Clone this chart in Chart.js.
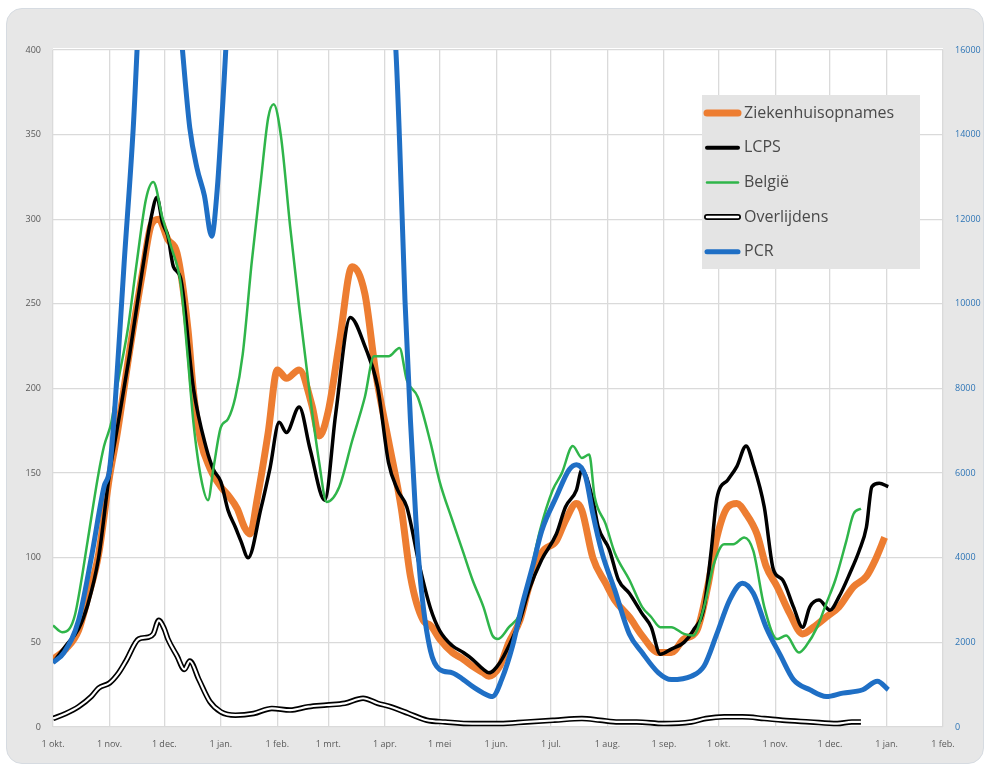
<!DOCTYPE html>
<html>
<head>
<meta charset="utf-8">
<script src="https://cdn.jsdelivr.net/npm/chart.js@4/dist/chart.umd.min.js"></script>
<style>
  body { margin: 0; background: #ffffff; }
  .panel { position: absolute; left: 6px; top: 8px; width: 976px; height: 754px;
           background: #e7e7e7; border: 1px solid #d6dbe1; border-radius: 16px; }
  canvas { position: absolute; left: 0; top: 0; }
</style>
</head>
<body>
<div class="panel"></div>
<canvas id="chart" width="987" height="770"></canvas>
<script>
// dagen sinds 1 okt. 2020 + labels van de x-as
const tickDays = [0, 31, 61, 92, 123, 151, 182, 212, 243, 273, 304, 335, 365, 396, 426, 457, 488];
const tickLabels = ['1 okt.', '1 nov.', '1 dec.', '1 jan.', '1 feb.', '1 mrt.', '1 apr.', '1 mei', '1 jun.',
                    '1 jul.', '1 aug.', '1 sep.', '1 okt.', '1 nov.', '1 dec.', '1 jan.', '1 feb.'];

// Ziekenhuisopnames (oranje)
const zhDays   = [0, 7, 14, 19, 25, 31, 35, 42, 49, 54, 58, 63, 68, 74, 77, 81, 86, 92, 96, 101, 105, 108, 112, 118, 123, 128, 135, 142, 146, 151, 157, 164, 171, 177, 184, 191, 196, 203, 207, 212, 219, 225, 230, 236, 239, 245, 250, 256, 261, 268, 276, 281, 287, 290, 296, 303, 308, 316, 323, 332, 339, 346, 353, 359, 364, 370, 375, 380, 386, 391, 397, 404, 411, 417, 424, 431, 439, 446, 451, 456];
const zhValues = [40, 46, 57, 76, 102, 148, 172, 222, 268, 297, 300, 288, 280, 235, 198, 169, 153, 142, 137, 129, 118, 114, 135, 174, 211, 206, 211, 190, 172, 187, 227, 272, 256, 209, 169, 129, 89, 63, 60, 52, 44, 40, 36, 32, 30, 36, 50, 63, 83, 103, 110, 122, 132, 128, 100, 85, 75, 65, 54, 44, 44, 52, 57, 83, 112, 130, 132, 126, 114, 95, 83, 67, 55, 59, 65, 71, 83, 89, 99, 112];

// LCPS (zwart)
const lcpsDays   = [0, 7, 14, 19, 25, 31, 35, 42, 49, 54, 57, 60, 63, 66, 70, 77, 84, 88, 92, 96, 100, 103, 107, 114, 119, 124, 128, 135, 141, 149, 155, 163, 171, 178, 184, 189, 194, 201, 207, 212, 219, 225, 230, 236, 239, 245, 250, 256, 261, 268, 276, 281, 287, 290, 296, 299, 305, 310, 316, 323, 328, 333, 339, 346, 351, 357, 361, 364, 370, 375, 380, 384, 390, 395, 400, 406, 411, 415, 420, 426, 431, 437, 442, 446, 449, 453, 458];
const lcpsValues = [38, 48, 58, 72, 100, 150, 175, 220, 270, 302, 313, 298, 290, 272, 265, 200, 165, 152, 145, 128, 118, 110, 100, 129, 153, 180, 174, 189, 164, 134, 185, 242, 225, 201, 156, 140, 130, 95, 70, 57, 48, 44, 40, 34, 32, 38, 48, 63, 81, 99, 114, 130, 140, 152, 134, 118, 105, 87, 79, 67, 59, 43, 46, 50, 57, 71, 105, 135, 146, 154, 166, 155, 130, 93, 87, 71, 59, 71, 75, 69, 77, 91, 104, 118, 142, 144, 142];

// België (groen)
const belgieDays   = [0, 5, 9, 12, 15, 19, 25, 28, 32, 35, 41, 46, 51, 55, 60, 65, 70, 74, 77, 81, 85, 88, 92, 96, 100, 104, 109, 114, 118, 121, 125, 130, 135, 141, 146, 150, 157, 164, 171, 176, 184, 190, 194, 200, 207, 212, 219, 225, 230, 236, 241, 244, 250, 256, 261, 267, 274, 279, 285, 290, 294, 297, 303, 308, 316, 323, 328, 333, 339, 346, 351, 357, 362, 368, 373, 379, 384, 390, 397, 402, 409, 413, 419, 424, 429, 435, 439, 443];
const belgieValues = [60, 56, 58, 66, 83, 110, 150, 166, 180, 200, 235, 275, 312, 322, 301, 283, 262, 217, 180, 148, 134, 153, 177, 182, 195, 220, 275, 323, 360, 368, 349, 296, 248, 195, 156, 133, 142, 169, 195, 219, 219, 224, 205, 195, 168, 145, 122, 103, 87, 71, 54, 52, 59, 67, 87, 116, 140, 150, 166, 159, 161, 136, 120, 103, 87, 71, 65, 59, 59, 55, 54, 71, 95, 108, 108, 112, 104, 71, 52, 54, 44, 48, 59, 73, 87, 110, 126, 129];

// Overlijdens (dubbele lijn)
const overlDays   = [0, 7, 14, 21, 25, 31, 36, 40, 47, 52, 55, 58, 61, 63, 68, 72, 75, 80, 86, 92, 100, 110, 120, 130, 140, 150, 160, 170, 178, 185, 195, 205, 215, 230, 245, 260, 275, 290, 300, 310, 320, 335, 350, 358, 368, 378, 390, 400, 415, 430, 438, 443];
const overlValues = [5, 8, 12, 18, 23, 26, 32, 39, 52, 53, 55, 63, 58, 52, 42, 34, 39, 28, 15, 9, 7, 8, 11, 10, 12, 13, 14, 17, 14, 12, 8, 4, 3, 2, 2, 3, 4, 5, 4, 3, 3, 2, 3, 5, 6, 6, 5, 4, 3, 2, 3, 3];

// PCR (blauw, rechter as)
const pcrDays   = [0, 6, 14, 21, 28, 31, 34, 39, 44, 48, 55, 63, 68, 71, 75, 79, 83, 87, 90, 93, 97, 110, 130, 150, 170, 184, 188, 190, 193, 196, 199, 202, 207, 212, 219, 225, 230, 236, 241, 246, 252, 257, 263, 268, 276, 283, 287, 292, 296, 301, 308, 316, 323, 332, 339, 350, 357, 364, 371, 378, 384, 391, 399, 406, 415, 424, 433, 444, 452, 458];
const pcrValues = [1520, 1760, 2520, 4000, 5680, 6080, 7600, 10960, 14160, 17600, 20800, 20000, 17600, 16000, 14160, 13200, 12560, 11600, 12680, 14680, 17600, 22400, 24000, 22400, 20800, 18000, 16000, 13880, 10080, 7240, 4880, 3240, 1800, 1360, 1280, 1120, 960, 800, 720, 1120, 1920, 2840, 3800, 4640, 5440, 6080, 6200, 5920, 5040, 4120, 3240, 2200, 1760, 1280, 1120, 1200, 1440, 2200, 3000, 3400, 3160, 2360, 1680, 1120, 880, 720, 800, 880, 1080, 880];

function pts(days, vals) {
  return days.map((d, i) => ({ x: d, y: vals[i] }));
}

// legenda items
const legendItems = [
  { text: 'Ziekenhuisopnames', color: '#ed7d31', width: 7 },
  { text: 'LCPS', color: '#000000', width: 4 },
  { text: 'België', color: '#2fb54a', width: 2.5 },
  { text: 'Overlijdens', color: '#000000', width: 6, inner: '#ffffff' },
  { text: 'PCR', color: '#1f6fc5', width: 5 }
];

const plotBg = {
  id: 'plotBg',
  beforeDraw(chart) {
    const a = chart.chartArea, ctx = chart.ctx;
    ctx.save();
    ctx.fillStyle = '#ffffff';
    ctx.fillRect(a.left, a.top - 2, a.right - a.left, a.bottom - a.top + 2);
    ctx.restore();
  }
};

const boxLegend = {
  id: 'boxLegend',
  afterDatasetsDraw(chart) {
    const ctx = chart.ctx;
    const bx = 702, by = 95, bw = 218, bh = 174;
    ctx.save();
    ctx.fillStyle = '#e4e4e4';
    ctx.fillRect(bx, by, bw, bh);
    ctx.font = '16px "Open Sans"';
    ctx.textBaseline = 'middle';
    legendItems.forEach((it, i) => {
      const y = by + 18 + i * 34.7;
      ctx.lineCap = 'round';
      ctx.strokeStyle = it.color;
      ctx.lineWidth = it.width;
      ctx.beginPath(); ctx.moveTo(707, y); ctx.lineTo(738, y); ctx.stroke();
      if (it.inner) {
        ctx.strokeStyle = it.inner; ctx.lineWidth = 2.5;
        ctx.beginPath(); ctx.moveTo(707, y); ctx.lineTo(738, y); ctx.stroke();
      }
      ctx.fillStyle = '#4a4a4a';
      ctx.fillText(it.text, 744, y);
    });
    ctx.restore();
  }
};

const ctx = document.getElementById('chart').getContext('2d');
new Chart(ctx, {
  type: 'line',
  data: {
    datasets: [
      { label: 'PCR', data: pts(pcrDays, pcrValues), yAxisID: 'y2', borderColor: '#1f6fc5', borderWidth: 5, order: 0, clip: 0 },
      { label: 'Overlijdens binnen', data: pts(overlDays, overlValues), yAxisID: 'y', borderColor: '#ffffff', borderWidth: 2.2, order: 1 },
      { label: 'Overlijdens', data: pts(overlDays, overlValues), yAxisID: 'y', borderColor: '#000000', borderWidth: 5.5, order: 2 },
      { label: 'België', data: pts(belgieDays, belgieValues), yAxisID: 'y', borderColor: '#2fb54a', borderWidth: 2.5, order: 3 },
      { label: 'LCPS', data: pts(lcpsDays, lcpsValues), yAxisID: 'y', borderColor: '#000000', borderWidth: 3.5, order: 4 },
      { label: 'Ziekenhuisopnames', data: pts(zhDays, zhValues), yAxisID: 'y', borderColor: '#ed7d31', borderWidth: 7, order: 5 }
    ]
  },
  options: {
    responsive: false,
    animation: false,
    elements: {
      point: { radius: 0 },
      line: { tension: 0.25, cubicInterpolationMode: 'monotone', fill: false, borderJoinStyle: 'round' }
    },
    layout: { padding: { top: 50, left: 8, right: 4, bottom: 5 } },
    plugins: { legend: { display: false }, tooltip: { enabled: false } },
    scales: {
      x: {
        type: 'linear', min: 0, max: 488,
        afterBuildTicks(scale) { scale.ticks = tickDays.map(v => ({ value: v })); },
        afterFit(scale) { scale.height = 38; },
        ticks: {
          autoSkip: false, maxRotation: 0, padding: 12,
          font: { family: 'Open Sans', size: 9 }, color: '#595959',
          callback: (v) => tickLabels[tickDays.indexOf(v)]
        },
        grid: { color: '#dadada', lineWidth: 1.3, drawTicks: false },
        border: { display: false }
      },
      y: {
        position: 'left', min: 0, max: 400,
        afterFit(scale) { scale.width = 45; },
        ticks: { stepSize: 50, padding: 12, font: { family: 'Open Sans', size: 9 }, color: '#595959' },
        grid: { color: '#dadada', lineWidth: 1.3, drawTicks: false },
        border: { display: false }
      },
      y2: {
        position: 'right', min: 0, max: 16000,
        afterFit(scale) { scale.width = 40; },
        ticks: { stepSize: 2000, padding: 12, font: { family: 'Open Sans', size: 9 }, color: '#2e75b6',
                 callback: (v) => String(v) },
        grid: { display: false, drawTicks: false },
        border: { display: false }
      }
    }
  },
  plugins: [plotBg, boxLegend]
});
</script>
</body>
</html>
